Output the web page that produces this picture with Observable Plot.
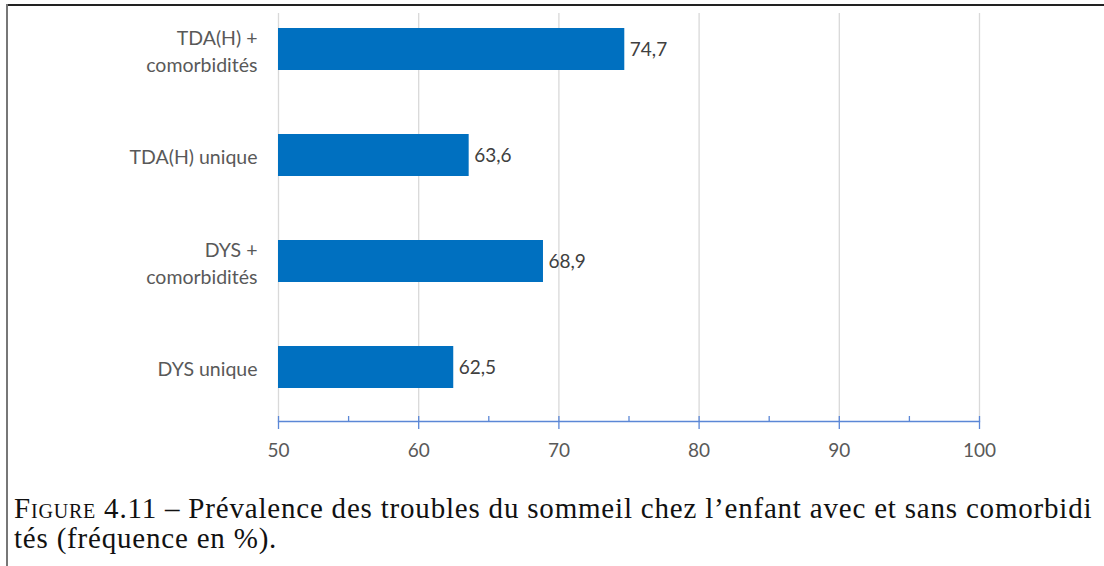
<!DOCTYPE html>
<html><head><meta charset="utf-8">
<script src="https://cdn.jsdelivr.net/npm/d3@7"></script>
<script src="https://cdn.jsdelivr.net/npm/@observablehq/plot@0.6"></script>
<style>
body{margin:0;background:#fff;width:1104px;height:566px;overflow:hidden;position:relative;}
#topline{position:absolute;left:7px;top:4px;right:0;height:0;border-top:2px solid #222;}
#leftline{position:absolute;left:6px;top:4px;bottom:0;width:0;border-left:2px solid #777;}
#chart{position:absolute;left:0;top:0;}
#caption{position:absolute;left:14px;top:493px;font-family:"Liberation Serif",serif;font-size:29px;letter-spacing:0.8px;line-height:30px;color:#111;white-space:nowrap;}
.sc{font-variant:small-caps;}
</style>
</head><body>
<div id="chart"></div>
<div id="topline"></div>
<div id="leftline"></div>
<div id="caption"><span class="sc">Figure</span> 4.11 – Prévalence des troubles du sommeil chez l’enfant avec et sans comorbidi<br>tés (fréquence en %).</div>
<script>
const categories = ["TDA(H) +\ncomorbidités", "TDA(H) unique", "DYS +\ncomorbidités", "DYS unique"];
const values = [74.7, 63.6, 68.9, 62.5];
const valueLabels = ["74,7", "63,6", "68,9", "62,5"];
const xTicks = [50, 60, 70, 80, 90, 100];
const xMinorTicks = [55, 65, 75, 85, 95];

const data = categories.map((c, i) => ({cat: c, value: values[i], label: valueLabels[i]}));
const axisBlue = "#5b87d6";

const plot = Plot.plot({
  width: 1104,
  height: 470,
  marginLeft: 278,
  marginRight: 125,
  marginTop: 13,
  marginBottom: 49,
  style: {fontFamily: "Lato, sans-serif", fontSize: "19px", background: "transparent"},
  x: {domain: [50, 100], label: null},
  y: {domain: categories, paddingInner: 0.605, paddingOuter: 0.221, align: 0.32, label: null},
  marks: [
    Plot.ruleX(xTicks, {stroke: "#d9d9d9", strokeWidth: 1.3}),
    Plot.barX(data, {x1: 50, x2: "value", y: "cat", fill: "#0070C0"}),
    Plot.text(data, {x: "value", y: "cat", text: "label", textAnchor: "start", dx: 5, fill: "#404040", fontSize: 19}),
    Plot.frame({anchor: "bottom", stroke: axisBlue, strokeWidth: 1.3}),
    Plot.axisX(xTicks, {tickSize: 13, dy: -5, tickFormat: () => "", stroke: axisBlue, strokeWidth: 1.3, label: null}),
    Plot.axisX(xMinorTicks, {tickSize: 5, dy: -5, tickFormat: () => "", stroke: axisBlue, strokeWidth: 1.3, label: null}),
    Plot.axisX(xTicks, {tickSize: 0, tickPadding: 22, fill: "#595959", fontSize: 19, label: null}),
    Plot.axisY({tickSize: 0, tickPadding: 21, fill: "#595959", fontSize: 19.5, lineHeight: 1.4, label: null})
  ]
});
document.getElementById("chart").appendChild(plot);
</script>
</body></html>
